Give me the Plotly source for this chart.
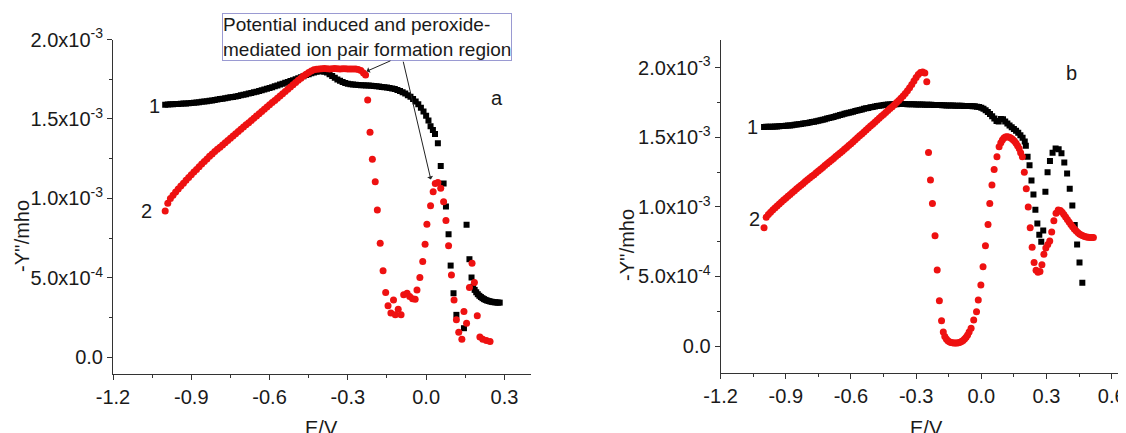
import plotly.graph_objects as go

SCALE = 1e-3  # values below are in units of 10^-3 mho
FONT = "Liberation Sans, Arial, sans-serif"

# ---------------- panel a ----------------
a1_E_dense = [round(-1.00 + 0.01 * i, 2) for i in range(101)]
a1_Y_dense = [1.590, 1.591, 1.592, 1.593, 1.594, 1.595, 1.596, 1.597, 1.598, 1.599,
              1.600, 1.602, 1.604, 1.606, 1.608, 1.610, 1.612, 1.615, 1.617, 1.620,
              1.622, 1.625, 1.628, 1.630, 1.633, 1.636, 1.639, 1.642, 1.645, 1.649,
              1.652, 1.656, 1.660, 1.664, 1.668, 1.672, 1.676, 1.681, 1.686, 1.690,
              1.695, 1.700, 1.706, 1.711, 1.717, 1.722, 1.728, 1.733, 1.739, 1.744,
              1.750, 1.756, 1.763, 1.769, 1.776, 1.782, 1.788, 1.793, 1.797, 1.800,
              1.800, 1.797, 1.792, 1.782, 1.770, 1.759, 1.748, 1.740, 1.732, 1.727,
              1.722, 1.719, 1.717, 1.716, 1.714, 1.713, 1.712, 1.711, 1.710, 1.709,
              1.708, 1.706, 1.704, 1.702, 1.700, 1.698, 1.695, 1.692, 1.688, 1.682,
              1.676, 1.668, 1.660, 1.650, 1.640, 1.626, 1.610, 1.592, 1.570, 1.547,
              1.520]
a1_E_sparse = [0.009, 0.017, 0.026, 0.034, 0.045, 0.056, 0.067, 0.076, 0.086, 0.094,
               0.105, 0.116, 0.145, 0.155, 0.166, 0.174, 0.180, 0.186, 0.192, 0.198,
               0.204, 0.210, 0.216, 0.222, 0.228, 0.234, 0.240, 0.246, 0.252, 0.258,
               0.264, 0.270, 0.276, 0.282]
a1_Y_sparse = [1.490, 1.455, 1.430, 1.405, 1.347, 1.204, 1.095, 0.949, 0.775, 0.578,
               0.404, 0.268, 0.184, 0.834, 0.618, 0.503, 0.445, 0.425, 0.410, 0.398,
               0.388, 0.380, 0.373, 0.367, 0.362, 0.358, 0.355, 0.352, 0.350, 0.348,
               0.347, 0.346, 0.345, 0.345]

a2_E_dense = [round(-1.00 + 0.01 * i, 2) for i in range(77)]
a2_Y_dense = [0.921, 0.970, 1.000, 1.020, 1.040, 1.060, 1.078, 1.096, 1.114, 1.132,
              1.149, 1.166, 1.183, 1.200, 1.217, 1.233, 1.249, 1.265, 1.280, 1.295,
              1.309, 1.323, 1.337, 1.351, 1.365, 1.379, 1.393, 1.407, 1.421, 1.435,
              1.449, 1.463, 1.477, 1.491, 1.505, 1.519, 1.533, 1.547, 1.561, 1.575,
              1.589, 1.603, 1.617, 1.631, 1.645, 1.659, 1.673, 1.687, 1.701, 1.715,
              1.729, 1.743, 1.757, 1.770, 1.782, 1.793, 1.802, 1.809, 1.813, 1.815,
              1.816, 1.817, 1.816, 1.815, 1.816, 1.817, 1.816, 1.815, 1.816, 1.816,
              1.815, 1.815, 1.815, 1.815, 1.812, 1.805, 1.790]
a2_E_sparse = [-0.232, -0.224, -0.215, -0.206, -0.195, -0.187, -0.176, -0.165, -0.155, -0.146,
               -0.135, -0.125, -0.118, -0.107, -0.096, -0.086, -0.073, -0.063, -0.052, -0.042,
               -0.035, -0.024, -0.013, -0.004, 0.003, 0.017, 0.027, 0.035, 0.045, 0.056,
               0.067, 0.076, 0.086, 0.097, 0.107, 0.116, 0.125, 0.137, 0.145, 0.155,
               0.166, 0.176, 0.185, 0.196, 0.206, 0.217, 0.231, 0.245]
a2_Y_sparse = [1.776, 1.619, 1.416, 1.246, 1.106, 0.928, 0.718, 0.545, 0.408, 0.325,
               0.279, 0.362, 0.268, 0.304, 0.268, 0.394, 0.404, 0.383, 0.369, 0.366,
               0.425, 0.503, 0.603, 0.712, 0.838, 0.955, 1.043, 1.095, 1.100, 1.064,
               0.980, 0.861, 0.702, 0.519, 0.362, 0.237, 0.159, 0.115, 0.289, 0.216,
               0.440, 0.593, 0.471, 0.262, 0.128, 0.115, 0.107, 0.100]

# ---------------- panel b ----------------
b1_E_dense = [round(-1.00 + 0.01 * i, 2) for i in range(121)]
b1_Y_dense = [1.575, 1.576, 1.576, 1.577, 1.577, 1.578, 1.579, 1.580, 1.581, 1.582,
              1.583, 1.585, 1.586, 1.588, 1.590, 1.592, 1.594, 1.596, 1.599, 1.601,
              1.604, 1.607, 1.610, 1.613, 1.616, 1.620, 1.623, 1.627, 1.631, 1.635,
              1.639, 1.643, 1.647, 1.651, 1.656, 1.660, 1.664, 1.669, 1.673, 1.677,
              1.681, 1.685, 1.689, 1.693, 1.697, 1.701, 1.705, 1.709, 1.712, 1.716,
              1.719, 1.722, 1.725, 1.728, 1.730, 1.732, 1.734, 1.736, 1.737, 1.738,
              1.739, 1.739, 1.740, 1.740, 1.740, 1.740, 1.739, 1.739, 1.738, 1.738,
              1.737, 1.737, 1.736, 1.736, 1.735, 1.735, 1.734, 1.734, 1.733, 1.733,
              1.732, 1.732, 1.731, 1.731, 1.730, 1.730, 1.729, 1.729, 1.728, 1.728,
              1.727, 1.727, 1.726, 1.726, 1.725, 1.725, 1.724, 1.723, 1.721, 1.718,
              1.713, 1.705, 1.695, 1.682, 1.668, 1.652, 1.635, 1.618, 1.615, 1.632,
              1.630, 1.615, 1.600, 1.585, 1.572, 1.560, 1.547, 1.533, 1.516, 1.497,
              1.470]
b1_E_sparse = [0.205, 0.213, 0.222, 0.231, 0.240, 0.249, 0.258, 0.267, 0.276, 0.285,
               0.295, 0.305, 0.316, 0.328, 0.342, 0.356, 0.369, 0.382, 0.395, 0.407,
               0.419, 0.430, 0.441, 0.452, 0.465]
b1_Y_sparse = [1.440, 1.360, 1.300, 1.190, 1.090, 0.980, 0.880, 0.800, 0.750, 0.830,
               1.110, 1.250, 1.330, 1.390, 1.420, 1.415, 1.385, 1.320, 1.240, 1.130,
               1.010, 0.870, 0.730, 0.600, 0.455]

b2_E_dense = [round(-1.00 + 0.01 * i, 2) for i in range(75)]
b2_Y_dense = [0.850, 0.925, 0.945, 0.962, 0.978, 0.993, 1.007, 1.021, 1.035, 1.049,
              1.063, 1.077, 1.090, 1.103, 1.117, 1.130, 1.143, 1.156, 1.169, 1.182,
              1.195, 1.208, 1.220, 1.232, 1.245, 1.258, 1.271, 1.284, 1.297, 1.310,
              1.323, 1.336, 1.349, 1.362, 1.375, 1.388, 1.401, 1.414, 1.427, 1.441,
              1.455, 1.469, 1.483, 1.497, 1.511, 1.525, 1.539, 1.553, 1.567, 1.581,
              1.595, 1.609, 1.623, 1.637, 1.651, 1.665, 1.679, 1.693, 1.707, 1.721,
              1.735, 1.750, 1.765, 1.781, 1.798, 1.816, 1.836, 1.857, 1.880, 1.905,
              1.930, 1.952, 1.966, 1.970, 1.962]
b2_E_sparse = [-0.251, -0.243, -0.234, -0.225, -0.213, -0.203, -0.193, -0.183, -0.175, -0.168,
               -0.161, -0.154, -0.147, -0.140, -0.133, -0.126, -0.119, -0.112, -0.105, -0.098,
               -0.091, -0.084, -0.077, -0.070, -0.063, -0.056, -0.047, -0.035, -0.022, -0.014,
               -0.002, 0.008, 0.019, 0.031, 0.039, 0.049, 0.059, 0.072, 0.082, 0.090,
               0.097, 0.104, 0.111, 0.118, 0.125, 0.132, 0.139, 0.146, 0.153, 0.160,
               0.167, 0.174, 0.181, 0.189, 0.198, 0.207, 0.216, 0.225, 0.234, 0.243,
               0.252, 0.261, 0.270, 0.279, 0.288, 0.297, 0.306, 0.315, 0.324, 0.334,
               0.344, 0.354, 0.364, 0.372, 0.380, 0.388, 0.396, 0.404, 0.412, 0.420,
               0.428, 0.436, 0.444, 0.452, 0.460, 0.468, 0.476, 0.484, 0.492, 0.500,
               0.508, 0.516]
b2_Y_sparse = [1.900, 1.392, 1.193, 1.025, 0.793, 0.546, 0.326, 0.182, 0.100, 0.068,
               0.050, 0.038, 0.031, 0.026, 0.023, 0.021, 0.021, 0.022, 0.024, 0.028,
               0.033, 0.040, 0.050, 0.063, 0.080, 0.100, 0.127, 0.187, 0.247, 0.331,
               0.438, 0.570, 0.721, 0.874, 1.025, 1.157, 1.269, 1.360, 1.432, 1.462,
               1.482, 1.495, 1.502, 1.504, 1.503, 1.499, 1.492, 1.483, 1.472, 1.458,
               1.440, 1.420, 1.390, 1.360, 1.250, 1.130, 1.000, 0.850, 0.710, 0.600,
               0.545, 0.530, 0.535, 0.585, 0.660, 0.705, 0.730, 0.755, 0.820, 0.900,
               0.955, 0.978, 0.975, 0.962, 0.945, 0.928, 0.910, 0.892, 0.874, 0.857,
               0.842, 0.828, 0.816, 0.806, 0.798, 0.792, 0.787, 0.784, 0.782, 0.781,
               0.781, 0.781]

x_ticks = [-1.2, -0.9, -0.6, -0.3, 0.0, 0.3, 0.6]
x_ticktext = ["-1.2", "-0.9", "-0.6", "-0.3", "0.0", "0.3", "0.6"]
y_ticks = [0.0, 0.5, 1.0, 1.5, 2.0]
y_ticktext = ["0.0", "5.0x10<sup>-4</sup>", "1.0x10<sup>-3</sup>",
              "1.5x10<sup>-3</sup>", "2.0x10<sup>-3</sup>"]

BLACK = "#000000"
RED = "#ee1111"

def sc(v):
    return [val * SCALE for val in v]

fig = go.Figure()
sq = dict(symbol="square", size=6, color=BLACK)
ci = dict(symbol="circle", size=7, color=RED)
fig.add_trace(go.Scatter(x=a1_E_dense + a1_E_sparse, y=sc(a1_Y_dense + a1_Y_sparse),
                         mode="markers", marker=sq, xaxis="x", yaxis="y"))
fig.add_trace(go.Scatter(x=a2_E_dense + a2_E_sparse, y=sc(a2_Y_dense + a2_Y_sparse),
                         mode="markers", marker=ci, xaxis="x", yaxis="y"))
fig.add_trace(go.Scatter(x=b1_E_dense + b1_E_sparse, y=sc(b1_Y_dense + b1_Y_sparse),
                         mode="markers", marker=sq, xaxis="x2", yaxis="y2"))
fig.add_trace(go.Scatter(x=b2_E_dense + b2_E_sparse, y=sc(b2_Y_dense + b2_Y_sparse),
                         mode="markers", marker=ci, xaxis="x2", yaxis="y2"))

# the page body adds an 8 px offset; the figure is sized to fit the window
OFF = 8
W, H = 1126 - OFF, 433 - OFF

def px(x):
    return (x - OFF) / W

def py(y):
    return 1 - (y - OFF) / H

axcol = "#333333"
tickfont = dict(family=FONT, size=20, color="#1a1a1a")

def xax(domain, rng, anchor):
    return dict(domain=domain, range=rng, anchor=anchor, automargin=False,
                tickvals=x_ticks, ticktext=x_ticktext, tickfont=tickfont,
                ticks="outside", ticklen=5, tickwidth=1, tickcolor=axcol,
                showline=True, linecolor=axcol, linewidth=1,
                showgrid=False, zeroline=False,
                minor=dict(tickvals=[-1.05, -0.75, -0.45, -0.15, 0.15, 0.45],
                           ticks="outside", ticklen=3, tickcolor=axcol, showgrid=False))

def yax(domain, rng, anchor):
    return dict(domain=domain, range=rng, anchor=anchor, automargin=False,
                tickvals=[v * SCALE for v in y_ticks], ticktext=y_ticktext, tickfont=tickfont,
                ticks="outside", ticklen=5, tickwidth=1, tickcolor=axcol,
                showline=True, linecolor=axcol, linewidth=1,
                showgrid=False, zeroline=False,
                minor=dict(tickvals=[v * SCALE for v in [0.25, 0.75, 1.25, 1.75]],
                           ticks="outside", ticklen=3, tickcolor=axcol, showgrid=False))

fig.update_layout(
    template="none",
    width=W, height=H, margin=dict(l=0, r=0, t=0, b=0, pad=0),
    plot_bgcolor="white", paper_bgcolor="white", showlegend=False,
    xaxis=xax([px(113), px(530.5)], [-1.2, 0.4], "y"),
    yaxis=yax([py(374), py(39.5)], [-0.104e-3, 2.0e-3], "x"),
    xaxis2=xax([px(720.6), 1.0], [-1.2, 0.666], "y2"),
    yaxis2=yax([py(373.3), py(40)], [-0.196e-3, 2.2e-3], "x2"),
)

txt = dict(family=FONT, size=20, color="#1a1a1a")
ann = []
# axis titles
ann.append(dict(text="-Y''/mho", xref="paper", yref="paper", x=px(22), y=py(236),
                xanchor="center", yanchor="middle",
                textangle=-90, showarrow=False, font=txt))
ann.append(dict(text="-Y''/mho", xref="paper", yref="paper", x=px(627), y=py(245),
                xanchor="center", yanchor="middle",
                textangle=-90, showarrow=False, font=txt))
ann.append(dict(text="E/V", xref="paper", yref="paper", x=px(321), y=py(428),
                xanchor="center", yanchor="middle", showarrow=False, font=txt))
ann.append(dict(text="E/V", xref="paper", yref="paper", x=px(926), y=py(428),
                xanchor="center", yanchor="middle", showarrow=False, font=txt))
# curve labels
for t, x, y, xr, yr in [("1", -1.04, 1.582e-3, "x", "y"), ("2", -1.07, 0.922e-3, "x", "y"),
                        ("a", 0.27, 1.63e-3, "x", "y"),
                        ("1", -1.055, 1.577e-3, "x2", "y2"), ("2", -1.046, 0.913e-3, "x2", "y2"),
                        ("b", 0.417, 1.962e-3, "x2", "y2")]:
    ann.append(dict(text=t, xref=xr, yref=yr, x=x, y=y, xanchor="center", yanchor="middle",
                    showarrow=False, font=txt))
# callout box
ann.append(dict(text="Potential induced and peroxide-<br>mediated ion pair formation region",
                xref="paper", yref="paper", x=px(222), y=py(12.7),
                xanchor="left", yanchor="top", align="left", showarrow=False,
                bordercolor="#9a9ad2", borderwidth=1, borderpad=0, bgcolor="white",
                font=dict(family=FONT, size=19, color="#1a1a1a")))
# arrows
for hx, hy, tx, ty in [(-0.228, 1.80e-3, -0.131, 1.87e-3), (0.018, 1.12e-3, -0.089, 1.87e-3)]:
    ann.append(dict(text="", x=hx, y=hy, ax=tx, ay=ty, xref="x", yref="y",
                    axref="x", ayref="y", showarrow=True, arrowhead=1, arrowsize=1,
                    arrowwidth=1, arrowcolor="#222222", standoff=0))
fig.update_layout(annotations=ann)

fig.write_html("out.html")
